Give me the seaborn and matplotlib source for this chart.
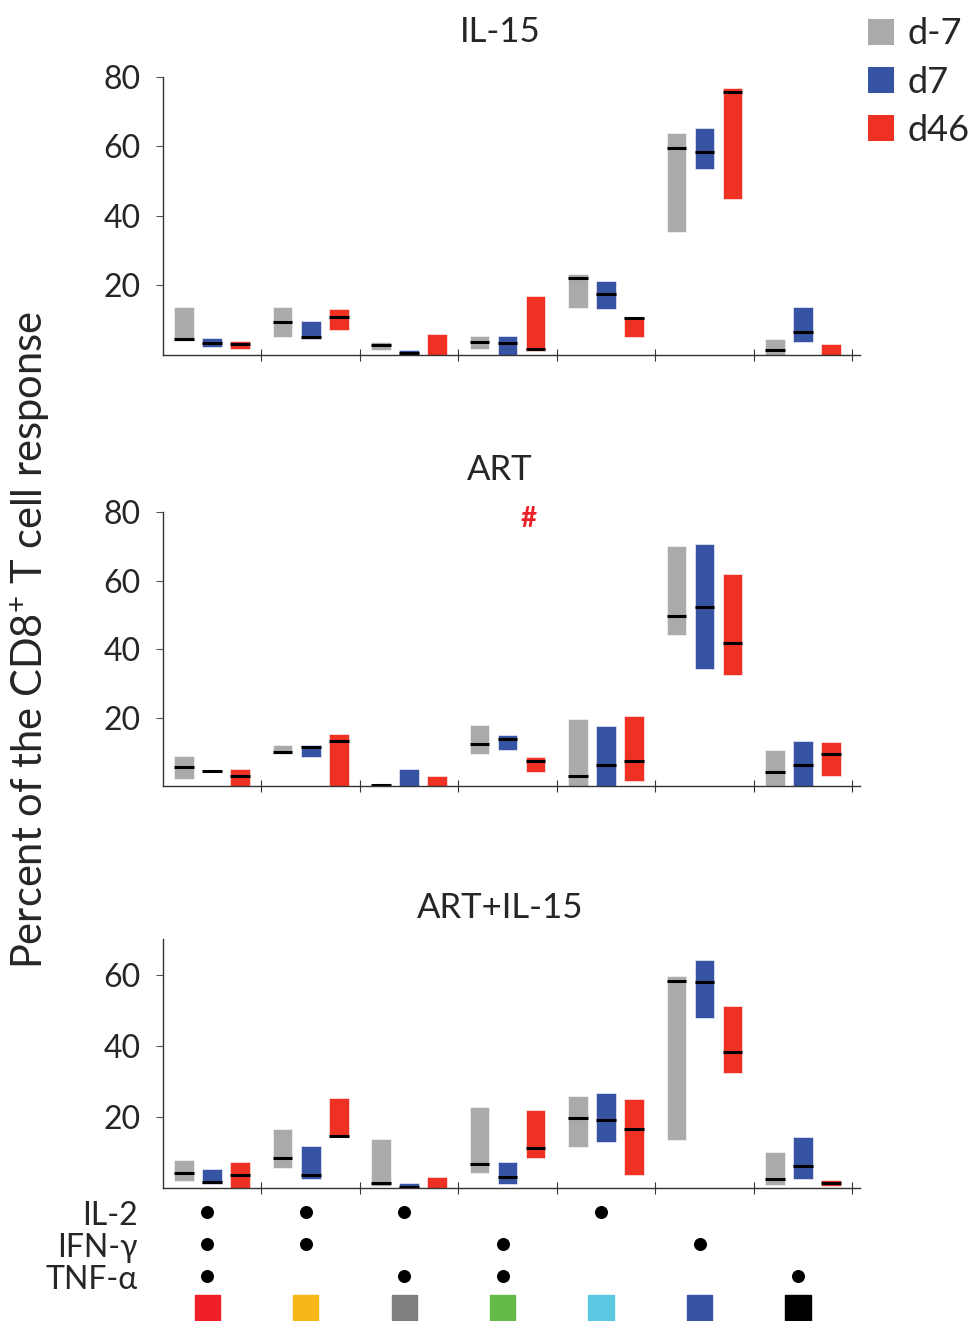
import numpy as np
import pandas as pd
import matplotlib
matplotlib.use("Agg")
import matplotlib.pyplot as plt
import seaborn as sns
from matplotlib.patches import Patch

timepoints = ["d-7", "d7", "d46"]
tp_colors = ["#aaaaaa", "#3653a4", "#ef3124"]
panel_titles = ["IL-15", "ART", "ART+IL-15"]
n_groups = 7

# each panel: rows = d-7, d7, d46 ; columns = the 7 cytokine combinations
il15_low = [[4.0, 5.0, 1.3, 1.7, 13.3, 35.2, 0.0],
            [2.2, 4.6, 0.0, 0.0, 13.0, 53.4, 3.7],
            [1.7, 7.0, 0.0, 1.0, 5.0, 44.9, 0.0]]
il15_high = [[13.6, 13.6, 3.6, 5.3, 23.2, 64.0, 4.4],
             [4.9, 9.6, 1.2, 5.3, 21.2, 65.2, 13.6],
             [4.0, 13.2, 6.0, 16.8, 10.7, 76.7, 2.9]]
il15_med = [[4.6, 9.3, 2.6, 3.7, 22.1, 59.6, 1.3],
            [3.4, 5.0, 0.4, 3.4, 17.3, 58.4, 6.5],
            [2.9, 10.9, None, 1.7, 10.5, 75.6, None]]

art_low = [[2.2, 9.5, 0.0, 9.4, 0.0, 44.3, 0.0],
           [4.6, 8.7, 0.0, 10.7, 0.0, 34.3, 0.0],
           [0.0, 0.0, 0.0, 4.3, 1.5, 32.7, 3.1]]
art_high = [[9.0, 12.2, 0.5, 18.1, 19.7, 70.1, 10.6],
            [4.6, 12.2, 5.0, 15.0, 17.7, 70.9, 13.3],
            [5.0, 15.3, 3.0, 8.6, 20.5, 62.1, 12.9]]
art_med = [[5.8, 10.2, 0.3, 12.3, 3.0, 49.8, 4.3],
           [4.6, 11.4, None, 13.8, 6.2, 52.3, 6.2],
           [3.0, 13.4, None, 7.4, 7.4, 41.8, 9.4]]

artil15_low = [[1.9, 5.7, 0.6, 4.3, 11.4, 13.4, 0.8],
               [1.1, 2.6, 0.0, 1.2, 12.8, 47.8, 2.6],
               [0.0, 14.2, 0.0, 8.5, 3.7, 32.3, 0.5]]
artil15_high = [[7.8, 16.5, 13.7, 22.8, 26.0, 59.6, 10.2],
                [5.4, 11.9, 1.4, 7.4, 26.7, 64.2, 14.4],
                [7.4, 25.3, 3.2, 21.8, 24.9, 51.2, 2.2]]
artil15_med = [[4.3, 8.5, 1.5, 6.8, 19.7, 58.3, 2.6],
               [1.6, 3.6, 0.3, 3.2, 19.1, 57.9, 6.1],
               [3.6, 14.6, None, 11.3, 16.5, 38.3, 1.5]]

# cytokine combination matrix (1 = produced)
il2 = [1, 1, 1, 0, 1, 0, 0]
ifng = [1, 1, 0, 1, 0, 1, 0]
tnfa = [1, 0, 1, 1, 0, 0, 1]
combo_colors = ["#ee1f26", "#f7b718", "#7f7f7f", "#65bb47", "#5bc8e2", "#3653a4", "#000000"]
row_labels = ["IL-2", "IFN-\u03b3", "TNF-\u03b1"]

panels = [(il15_low, il15_high, il15_med),
          (art_low, art_high, art_med),
          (artil15_low, artil15_high, artil15_med)]

sns.set_style("ticks")
plt.rcParams['font.family'] = ['Lato', 'DejaVu Sans']
plt.rcParams['mathtext.default'] = 'regular'

W, H = 980, 1321
fig = plt.figure(figsize=(W / 100, H / 100), dpi=100)

def frac(left, top, right, bottom):
    return [left / W, 1 - bottom / H, (right - left) / W, (bottom - top) / H]

ax_boxes = [frac(163, 77, 860, 354.5), frac(163, 512.5, 860, 786.5), frac(163, 939, 860, 1188)]
ylims = [80, 80, 70]
yticks = [[20, 40, 60, 80], [20, 40, 60, 80], [20, 40, 60]]
title_y = [32, 470, 908]
offsets = [-0.285, 0.0, 0.285]
bar_w = 0.2

axes = []
for p, (low, high, med) in enumerate(panels):
    ax = fig.add_axes(ax_boxes[p])
    axes.append(ax)
    for t in range(3):
        lo = np.array(low[t])
        hi = np.array(high[t])
        xs = np.arange(n_groups) + 0.5 + offsets[t]
        ax.bar(xs, hi - lo, bottom=lo, width=bar_w, color=tp_colors[t],
               edgecolor="white", linewidth=0.4)
        md = pd.Series(med[t], dtype=float)
        ok = md.notna().values
        ax.hlines(md[ok], xs[ok] - bar_w / 2, xs[ok] + bar_w / 2, color="black", lw=2.2)
    ax.set_xlim(0, 7.08)
    ax.set_ylim(0, ylims[p])
    ax.set_xticks(np.arange(1, n_groups + 1))
    ax.set_xticklabels([])
    ax.set_yticks(yticks[p])
    ax.tick_params(axis="y", labelsize=23, length=5, pad=11, color="#555555")
    ax.tick_params(axis="x", direction="inout", length=8, color="#333333")
    sns.despine(ax=ax)
    for s in ["left", "bottom"]:
        ax.spines[s].set_color("#333333")
        ax.spines[s].set_linewidth(1.0)
    fig.text(500 / W, 1 - title_y[p] / H, panel_titles[p], ha="center", va="center", fontsize=25)

# significance mark in ART panel
axes[1].text(3.71, 78, "#", color="#ee1f26", fontsize=20, fontweight="bold",
             ha="center", va="center")

# cytokine matrix below the plots
axm = fig.add_axes(frac(163, 1196, 860, 1321))
axm.set_xlim(0, 7.08)
axm.set_ylim(3.406, -0.5)
axm.axis("off")
gx = np.arange(n_groups) + 0.45
for r, flags in enumerate([il2, ifng, tnfa]):
    fl = np.array(flags, dtype=bool)
    axm.scatter(gx[fl], np.full(fl.sum(), r), s=70, color="black", marker="o", clip_on=False)
    axm.text(-0.26, r + 0.12, row_labels[r], ha="right", va="center", fontsize=23)
axm.scatter(gx, np.full(n_groups, 3), s=330, marker="s", color=combo_colors, clip_on=False)

# legend
handles = [Patch(facecolor=c, edgecolor="none", label=l) for c, l in zip(tp_colors, timepoints)]
fig.legend(handles=handles, loc="upper left", bbox_to_anchor=(854 / W, 1 - 3 / H),
           frameon=False, fontsize=26, handlelength=0.72, handleheight=0.72,
           labelspacing=0.42, handletextpad=0.35, borderaxespad=0)

fig.text(30 / W, 1 - 640 / H, "Percent of the CD8$^{+}$ T cell response", rotation=90,
         ha="center", va="center", fontsize=30)

fig.savefig("out.png", dpi=100)
